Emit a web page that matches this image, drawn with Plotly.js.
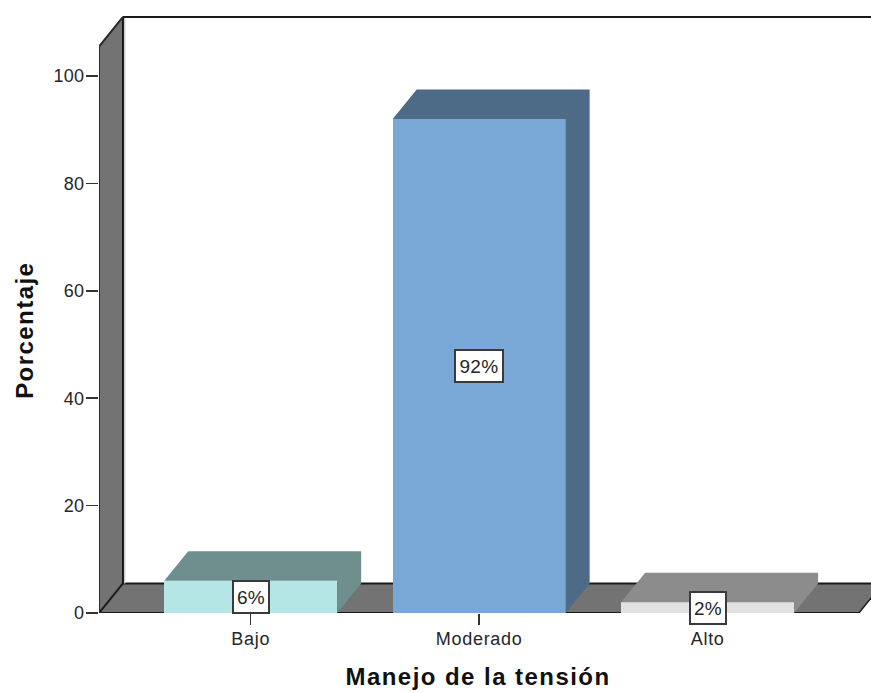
<!DOCTYPE html>
<html>
<head>
<meta charset="utf-8">
<script src="https://cdn.plot.ly/plotly-3.0.1.min.js"></script>
<style>
html,body{margin:0;padding:0;background:#fff}
#chart{width:871px;height:693px}
.xtick text{letter-spacing:.7px}
.ytick text{letter-spacing:.3px}
.annotation[data-index="0"] text,.annotation[data-index="1"] text,.annotation[data-index="2"] text{letter-spacing:.3px}
.annotation[data-index="3"] text,.annotation[data-index="4"] text{letter-spacing:1.45px}
</style>
</head>
<body>
<div id="chart"></div>
<script>
// Survey result: share of respondents per stress-management level
const categories = ['Bajo', 'Moderado', 'Alto'];
const percentages = [6, 92, 2];
const frontColors = ['#b4e6e6', '#7aa8d6', '#e2e2e2'];
const depthColors = ['#6f8e8e', '#4d6b87', '#8c8c8c'];
const yTicks = [0, 20, 40, 60, 80, 100];

// Oblique projection of the pseudo-3D frame, in axis units
const barWidth = 0.757;
const depthX = 0.105;
const depthY = 5.5;
const xMin = -0.664, xMax = 2.715;
const xFrontEnd = 2.662;
const wallTop = 105.5;
const wallColor = '#737373';
const edgeColor = '#1a1a1a';
const textColor = '#262626';
const titleColor = '#111111';
const fontFamily = 'Liberation Sans, Arial, sans-serif';

const positions = categories.map((_, i) => i);

// Top and side of each bar form one six-sided face behind the front
const depthFaces = percentages.map((v, i) => {
  const l = i - barWidth / 2, r = i + barWidth / 2;
  return {
    type: 'scatter', mode: 'lines', fill: 'toself', hoverinfo: 'skip', showlegend: false,
    x: [l, l + depthX, r + depthX, r + depthX, r, r, l],
    y: [v, v + depthY, v + depthY, depthY, 0, v, v],
    fillcolor: depthColors[i], line: {width: 0}
  };
});

const bars = {
  type: 'bar', x: positions, y: percentages, width: barWidth,
  marker: {color: frontColors, line: {width: 0}},
  hoverinfo: 'skip', showlegend: false
};

// Outer edge of the side wall sits on the plot boundary, so it must not be clipped
const wallEdge = {
  type: 'scatter', mode: 'lines', hoverinfo: 'skip', showlegend: false, cliponaxis: false,
  x: [xMin, xMin, xMin + depthX], y: [0, wallTop, wallTop + depthY],
  line: {color: '#2a2a2a', width: 2}
};

const poly = pts => 'M' + pts.map(p => p.join(',')).join('L') + 'Z';
const seg = (x0, y0, x1, y1, width, color) => ({
  type: 'line', layer: 'below', xref: 'x', yref: 'y', x0, y0, x1, y1,
  line: {color: color || edgeColor, width: width || 2}
});

const shapes = [
  {type: 'path', layer: 'below', xref: 'x', yref: 'y', line: {width: 0}, fillcolor: wallColor,
   path: poly([[xMin, 0], [xMin + depthX, depthY], [xMin + depthX, wallTop + depthY], [xMin, wallTop]])},
  {type: 'path', layer: 'below', xref: 'x', yref: 'y', line: {width: 0}, fillcolor: wallColor,
   path: poly([[xMin, 0], [xFrontEnd, 0], [xFrontEnd + depthX, depthY], [xMin + depthX, depthY]])},
  seg(xMin, 0, xFrontEnd, 0),
  seg(xMin + depthX, depthY, xMax, depthY),
  seg(xMin, 0, xMin + depthX, depthY),
  seg(xFrontEnd, 0, xFrontEnd + depthX, depthY, 1.5),
  seg(xMin + depthX + 0.0075, depthY, xMin + depthX + 0.0075, wallTop + depthY, 1.5, '#d0d0d0'),
  seg(xMin + depthX, depthY, xMin + depthX, wallTop + depthY),
  seg(xMin + depthX, wallTop + depthY, xMax, wallTop + depthY)
];

const valueLabels = percentages.map((v, i) => ({
  x: i, y: v / 2, xref: 'x', yref: 'y', text: v + '%', showarrow: false,
  bgcolor: '#ffffff', bordercolor: '#3a3a3a', borderwidth: 2, borderpad: 0,
  width: v >= 10 ? 46 : 34, height: 30,
  font: {family: fontFamily, size: 19, color: textColor}
}));

const axisTitle = (text, x, y, angle) => ({
  xref: 'paper', yref: 'paper', x, y, text, textangle: angle, showarrow: false,
  xanchor: 'center', yanchor: 'middle',
  font: {family: fontFamily, size: 24, color: titleColor, weight: 'bold'}
});

const layout = {
  width: 871, height: 693,
  margin: {l: 99, r: 0, t: 10, b: 80},
  paper_bgcolor: '#ffffff', plot_bgcolor: '#ffffff',
  font: {family: fontFamily, color: textColor},
  showlegend: false,
  bargap: 0,
  shapes,
  annotations: [
    ...valueLabels,
    axisTitle('Manejo de la tensión', 0.491, -0.106, 0),
    axisTitle('Porcentaje', -0.097, 0.4685, -90)
  ],
  xaxis: {
    range: [xMin, xMax], tickmode: 'array', tickvals: positions, ticktext: categories,
    ticks: 'outside', ticklen: 11, tickwidth: 1.5, tickcolor: '#333333',
    showgrid: false, zeroline: false, showline: false,
    tickfont: {size: 18}, ticklabelstandoff: -2
  },
  yaxis: {
    range: [0, 112.3], tickmode: 'array', tickvals: yTicks,
    ticks: 'outside', ticklen: 12, tickwidth: 1.5, tickcolor: '#333333',
    showgrid: false, zeroline: false, showline: false,
    tickfont: {size: 18}, ticklabelstandoff: -2
  }
};

Plotly.newPlot('chart', [bars, ...depthFaces, wallEdge], layout, {displayModeBar: false, staticPlot: true});
</script>
</body>
</html>
